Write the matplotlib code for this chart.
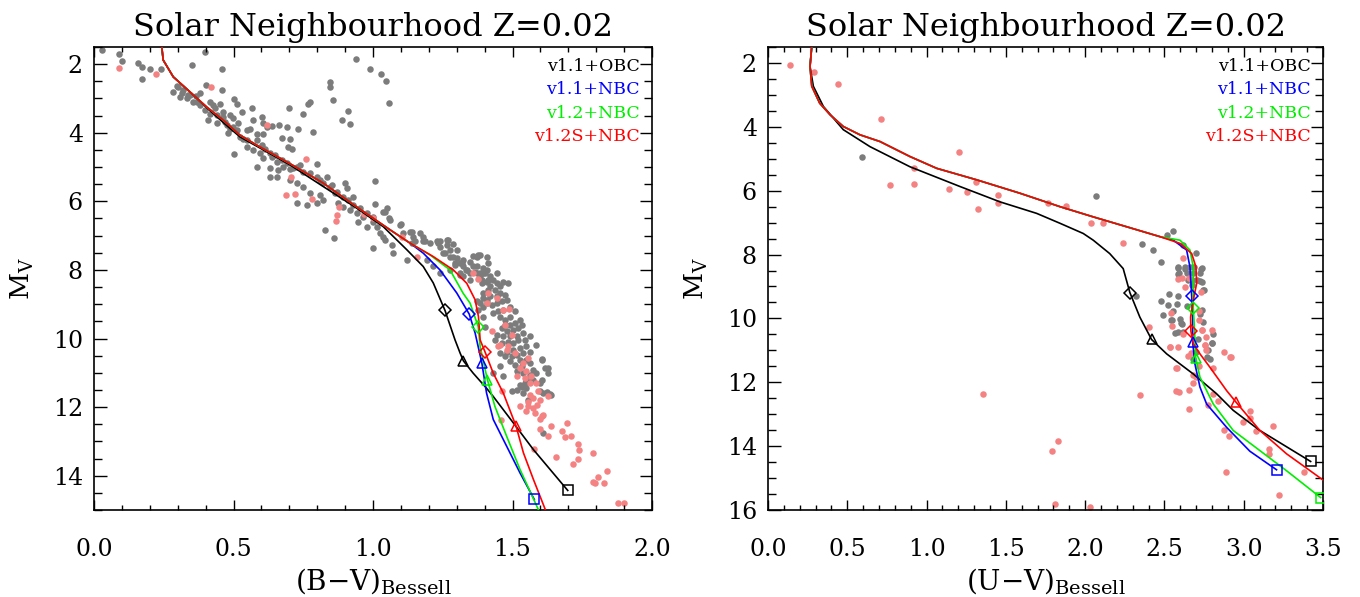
import numpy as np
import matplotlib
matplotlib.use("Agg")
import matplotlib.pyplot as plt
from matplotlib.ticker import MultipleLocator, FormatStrFormatter

plt.rcParams["font.family"] = ["DejaVu Serif"]
plt.rcParams["mathtext.fontset"] = "dejavuserif"

# ---- observed stars, (B-V) vs Mv
bv_grey = [
    (0.091, 1.71), (0.099, 1.90), (0.159, 1.96), (0.171, 2.08), (0.201, 2.13), (0.239, 2.13), (0.171, 2.44),
    (0.398, 1.64), (0.46, 2.15), (0.35, 2.03), (0.939, 1.86), (0.989, 2.15), (1.029, 2.29), (1.045, 2.49),
    (1.059, 3.13), (0.846, 2.51), (0.846, 2.66), (0.858, 3.05), (0.774, 3.10), (0.768, 3.17), (0.699, 3.29),
    (0.748, 3.44), (0.909, 3.37), (0.89, 3.63), (0.918, 3.75), (0.664, 3.78), (0.637, 3.81), (0.691, 3.84),
    (0.732, 3.90), (0.786, 3.99), (0.565, 3.29), (0.529, 3.39), (0.502, 3.03), (0.511, 3.17), (0.458, 2.76),
    (0.401, 2.61), (0.38, 2.85), (0.366, 2.93), (0.296, 2.64), (0.284, 2.81), (0.314, 2.83), (0.332, 3.00),
    (0.344, 2.90), (0.356, 3.10), (0.416, 3.10), (0.428, 3.19), (0.452, 3.15), (0.464, 3.39), (0.487, 3.49),
    (0.499, 3.58), (0.41, 3.63), (0.44, 3.73), (0.476, 3.78), (0.487, 3.90), (0.511, 3.93), (0.481, 4.02),
    (0.523, 4.12), (0.547, 4.21), (0.559, 3.90), (0.571, 3.63), (0.601, 3.53), (0.607, 3.73), (0.619, 3.84),
    (0.583, 4.04), (0.607, 4.04), (0.673, 4.14), (0.703, 4.18), (0.697, 4.41), (0.708, 4.46), (0.547, 4.41),
    (0.571, 4.50), (0.502, 4.62), (0.595, 4.60), (0.607, 4.75), (0.637, 4.70), (0.655, 4.84), (0.583, 4.99),
    (0.631, 5.04), (0.661, 5.09), (0.679, 4.99), (0.703, 5.07), (0.726, 4.99), (0.738, 4.94), (0.798, 4.91),
    (0.631, 5.28), (0.655, 5.28), (0.703, 5.38), (0.726, 5.48), (0.75, 5.57), (0.798, 5.28), (0.834, 5.30),
    (0.774, 5.77), (0.81, 5.82), (0.822, 5.96), (0.726, 6.06), (0.762, 6.11), (0.798, 6.06), (0.852, 5.52),
    (0.90, 5.48), (0.906, 5.62), (0.93, 5.88), (0.864, 5.77), (0.876, 6.06), (0.894, 6.16), (0.918, 6.25),
    (0.941, 6.35), (0.965, 6.45), (0.947, 6.59), (0.977, 6.74), (1.001, 6.59), (1.013, 6.74), (1.007, 5.40),
    (1.007, 6.08), (1.037, 6.30), (1.061, 6.54), (1.025, 6.93), (1.037, 7.03), (1.043, 7.13), (1.001, 7.37),
    (1.067, 7.27), (1.07, 7.51), (1.097, 6.69), (1.109, 6.93), (1.133, 6.88), (1.145, 7.03), (1.151, 7.17),
    (1.168, 6.93), (1.18, 7.03), (1.186, 7.17), (1.204, 7.22), (1.228, 7.17), (1.24, 7.32), (1.264, 7.13),
    (1.252, 7.51), (1.276, 7.42), (1.288, 7.61), (1.294, 7.81), (1.312, 7.81), (1.324, 7.71), (1.348, 7.76),
    (1.336, 8.00), (1.36, 7.90), (1.372, 7.61), (1.384, 8.10), (1.395, 8.10), (1.407, 7.61), (1.407, 8.00),
    (1.413, 8.29), (0.829, 6.85), (0.86, 7.06), (1.192, 7.71), (1.216, 7.90), (1.24, 8.10), (1.121, 7.71),
    (1.139, 7.22), (1.276, 8.00), (1.312, 8.10), (1.324, 8.19), (1.348, 8.29), (1.372, 8.10), (1.389, 8.29),
    (1.395, 8.68), (1.407, 8.97), (1.395, 9.36), (1.401, 9.65), (1.043, 6.30), (1.049, 6.20), (1.058, 6.48),
    (1.099, 6.67), (1.139, 6.88), (1.18, 7.17), (1.234, 7.22), (1.27, 7.12), (1.30, 7.41), (1.377, 7.56),
    (1.240, 7.17), (1.264, 7.27), (1.288, 7.24), (1.258, 7.51), (1.276, 7.61), (1.30, 7.66), (1.318, 7.80),
    (1.294, 7.85), (1.323, 7.90), (1.335, 8.00), (1.347, 8.09), (1.312, 8.14), (1.359, 7.59), (1.383, 7.56),
    (1.413, 7.80), (1.395, 7.95), (1.371, 7.90), (1.365, 8.05), (1.383, 8.19), (1.401, 8.09), (1.419, 8.19),
    (1.443, 8.09), (1.431, 8.29), (1.407, 8.34), (1.389, 8.39), (1.443, 8.39), (1.455, 8.48), (1.467, 8.34),
    (1.485, 8.39), (1.419, 8.48), (1.437, 8.58), (1.455, 8.68), (1.473, 8.73), (1.443, 8.77), (1.419, 8.77),
    (1.407, 8.87), (1.383, 8.97), (1.395, 9.07), (1.425, 9.02), (1.443, 8.97), (1.461, 8.92), (1.479, 8.87),
    (1.491, 9.07), (1.467, 9.16), (1.449, 9.21), (1.431, 9.26), (1.455, 9.36), (1.473, 9.45), (1.491, 9.36),
    (1.509, 9.21), (1.527, 9.45), (1.509, 9.55), (1.491, 9.60), (1.473, 9.60), (1.461, 9.70), (1.479, 9.79),
    (1.503, 9.75), (1.521, 9.70), (1.533, 9.60), (1.539, 9.84), (1.515, 9.94), (1.491, 9.94), (1.467, 9.94),
    (1.443, 9.89), (1.437, 10.04), (1.461, 10.13), (1.485, 10.09), (1.503, 10.13), (1.521, 10.04), (1.544, 10.04),
    (1.562, 9.94), (1.586, 10.18), (1.55, 10.23), (1.527, 10.28), (1.503, 10.33), (1.479, 10.38), (1.455, 10.43),
    (1.473, 10.52), (1.497, 10.52), (1.515, 10.47), (1.539, 10.43), (1.562, 10.38), (1.527, 10.62), (1.55, 10.62),
    (1.491, 10.67), (1.509, 10.77), (1.533, 10.81), (1.562, 10.72), (1.574, 10.91), (1.515, 10.96), (1.539, 11.01),
    (1.562, 11.06), (1.586, 11.01), (1.604, 10.62), (1.628, 10.86), (1.604, 11.20), (1.574, 11.20), (1.55, 11.20),
    (1.533, 11.40), (1.515, 11.49), (1.497, 11.54), (1.55, 11.44), (1.467, 11.10), (1.455, 10.81), (1.431, 11.01),
    (1.371, 8.92), (1.377, 9.16), (1.395, 8.82), (1.413, 8.58), (1.539, 11.39), (1.527, 11.35), (1.545, 11.30),
    (1.563, 11.28), (1.597, 11.30), (1.599, 11.54), (1.623, 11.57), (1.637, 11.64), (1.611, 11.59), (1.539, 11.59),
    (1.557, 11.78), (1.609, 12.75), (1.628, 11.00), (1.634, 11.63), (1.604, 10.60), (1.616, 10.85), (0.03, 1.58),
    (0.302, 2.66), (0.320, 2.76), (0.338, 2.90), (0.308, 2.95), (0.368, 3.10), (0.38, 3.19), (0.398, 3.34),
    (0.416, 3.44), (0.44, 3.49), (0.464, 3.55), (0.434, 3.29), (0.47, 3.68), (0.499, 3.83), (0.517, 3.73),
    (0.547, 3.92), (0.535, 4.17), (0.583, 4.21), (0.601, 4.36), (0.613, 4.46), (0.631, 4.60), (0.649, 4.65),
    (0.673, 4.80), (0.691, 4.89), (0.714, 5.04), (0.75, 5.14), (0.774, 5.18), (0.81, 5.38), (0.822, 5.48),
    (0.846, 5.57), (0.87, 5.72), (0.894, 5.86), (0.912, 5.96), (0.93, 6.11), (0.953, 6.20), (0.977, 6.35),
    (1.001, 6.45),
]
bv_pink = [
    (0.091, 2.10), (0.221, 2.30), (0.419, 2.66), (0.619, 3.78), (0.76, 4.78), (0.707, 5.28), (0.688, 5.82),
    (0.719, 5.79), (0.78, 5.94), (0.879, 6.16), (0.87, 6.40), (0.868, 6.57), (0.968, 6.37), (0.999, 6.50),
    (1.103, 7.03), (1.159, 7.63), (1.357, 8.09), (1.377, 8.26), (1.413, 8.68), (1.407, 8.97), (1.467, 9.16),
    (1.488, 9.14), (1.425, 9.79), (1.449, 10.23), (1.455, 10.18), (1.479, 10.33), (1.497, 9.89), (1.473, 9.60),
    (1.509, 10.43), (1.539, 10.72), (1.556, 10.57), (1.527, 10.86), (1.515, 11.10), (1.544, 11.15), (1.55, 10.96),
    (1.568, 11.10), (1.562, 11.30), (1.586, 11.30), (1.592, 11.54), (1.562, 11.64), (1.628, 11.67), (1.598, 11.78),
    (1.556, 11.85), (1.556, 11.98), (1.58, 12.17), (1.604, 12.27), (1.55, 12.12), (1.443, 8.82), (1.485, 10.23),
    (1.462, 11.54), (1.575, 11.73), (1.587, 11.93), (1.575, 12.03), (1.609, 12.22), (1.599, 12.35), (1.459, 12.37),
    (1.637, 12.56), (1.599, 12.64), (1.629, 12.83), (1.677, 12.69), (1.697, 12.46), (1.689, 12.88), (1.709, 12.83),
    (1.736, 13.07), (1.738, 13.24), (1.578, 13.22), (1.656, 13.45), (1.736, 13.50), (1.718, 13.66), (1.788, 13.34),
    (1.837, 13.85), (1.807, 14.04), (1.788, 14.17), (1.797, 14.22), (1.827, 14.21), (1.877, 14.79), (1.898, 14.79),
    (1.527, 11.98),
]

# ---- observed stars, (U-V) vs Mv
uv_grey = [
    (0.591, 4.94), (2.068, 6.18), (2.356, 7.68), (2.43, 7.86), (2.478, 8.23), (2.514, 7.39), (2.556, 7.27),
    (2.618, 7.70), (2.696, 7.95), (2.587, 8.39), (2.629, 8.44), (2.688, 8.39), (2.73, 8.44), (2.593, 8.59),
    (2.644, 8.59), (2.724, 8.57), (2.671, 8.80), (2.734, 8.86), (2.751, 9.10), (2.318, 9.31), (2.478, 9.45),
    (2.526, 9.25), (2.583, 9.31), (2.581, 9.56), (2.492, 9.90), (2.541, 10.04), (2.597, 10.01), (2.604, 10.14),
    (2.583, 10.43), (2.618, 10.43), (2.724, 9.85), (2.741, 10.11), (2.803, 10.76), (2.77, 11.21), (2.787, 11.26),
    (2.702, 11.05), (2.681, 11.26), (2.808, 10.50), (2.525, 9.59), (2.556, 9.77), (2.64, 9.62), (2.609, 10.16),
    (2.546, 10.06), (2.567, 10.46), (2.714, 10.64), (2.735, 9.73), (2.745, 9.12), (2.724, 8.83), (2.735, 8.42),
    (2.703, 8.80), (2.682, 8.59), (2.661, 8.39), (2.63, 8.39), (2.583, 8.41), (2.588, 8.62), (2.651, 8.80),
    (2.672, 8.96), (2.798, 10.77), (2.777, 11.00),
]
uv_pink = [
    (0.139, 2.07), (0.29, 2.28), (0.439, 2.65), (0.712, 3.76), (1.202, 4.78), (0.771, 5.82), (0.921, 5.78),
    (0.921, 5.30), (1.143, 5.95), (1.253, 6.03), (1.311, 5.74), (1.322, 6.57), (1.452, 6.15), (1.452, 6.40),
    (1.763, 6.37), (1.877, 6.48), (2.034, 7.00), (2.114, 7.02), (2.236, 7.63), (2.404, 10.27), (2.345, 12.39),
    (2.534, 10.90), (2.587, 10.90), (2.576, 11.55), (2.576, 12.28), (2.591, 12.31), (2.656, 12.24), (2.656, 12.85),
    (2.646, 11.19), (2.667, 11.09), (2.681, 11.77), (2.681, 12.02), (2.702, 11.84), (2.717, 11.50), (2.717, 9.77),
    (2.717, 10.04), (2.728, 9.17), (2.738, 10.37), (2.755, 10.84), (2.765, 10.58), (2.765, 11.00), (2.776, 12.70),
    (2.797, 10.37), (2.808, 11.55), (2.808, 12.38), (2.835, 12.59), (2.877, 11.05), (2.919, 11.21), (2.877, 13.48),
    (2.906, 13.69), (2.997, 13.25), (3.039, 12.91), (3.039, 13.12), (3.077, 13.53), (3.159, 14.09), (3.159, 14.25),
    (3.186, 13.38), (2.887, 14.82), (3.22, 15.52), (3.379, 14.82), (2.656, 8.72), (2.618, 8.11), (2.608, 8.73),
    (2.539, 9.83), (2.547, 10.24), (2.588, 8.75), (2.63, 9.01), (2.619, 10.48), (2.735, 10.37), (2.756, 10.84),
    (2.535, 10.90), (2.913, 11.21), (2.577, 11.55), (1.356, 12.36), (1.79, 14.14), (1.83, 13.85), (1.81, 15.8),
    (2.03, 15.9),
]

# ---- isochrones (B-V)
bv_upper = [(0.243, 1.50), (0.248, 1.88), (0.284, 2.37), (0.344, 2.81), (0.404, 3.25), (0.463, 3.63),
            (0.523, 4.07), (0.583, 4.36), (0.702, 4.90), (0.822, 5.47), (0.941, 6.16), (1.061, 6.83), (1.133, 7.22)]
bv_v11_obc = [(0.243, 1.50), (0.248, 1.88), (0.284, 2.37), (0.344, 2.81), (0.404, 3.27), (0.463, 3.70),
              (0.523, 4.12), (0.607, 4.50), (0.703, 4.94), (0.822, 5.57), (0.942, 6.20), (1.037, 6.74),
              (1.121, 7.41), (1.18, 7.90), (1.216, 8.38), (1.258, 9.18), (1.294, 10.04), (1.312, 10.42),
              (1.324, 10.65), (1.359, 11.01), (1.407, 11.45), (1.431, 11.69), (1.503, 12.46), (1.575, 13.24),
              (1.698, 14.43)]
bv_v11_nbc = bv_upper + [(1.18, 7.51), (1.24, 8.0), (1.30, 8.67), (1.345, 9.29), (1.366, 9.84), (1.39, 10.71),
                         (1.407, 11.59), (1.431, 12.36), (1.479, 13.14), (1.527, 13.92), (1.578, 14.69)]
bv_v12_nbc = bv_upper + [(1.204, 7.56), (1.276, 8.0), (1.323, 8.68), (1.348, 8.97), (1.377, 9.65), (1.384, 10.23),
                         (1.41, 11.20), (1.437, 11.98), (1.479, 12.85), (1.527, 13.82), (1.599, 15.1)]
bv_v12s_nbc = bv_upper + [(1.216, 7.61), (1.288, 8.00), (1.336, 8.39), (1.366, 8.87), (1.378, 9.36),
                          (1.384, 10.04), (1.401, 10.38), (1.431, 11.01), (1.467, 11.59), (1.513, 12.56),
                          (1.539, 13.33), (1.575, 14.11), (1.623, 15.1)]
# mass points: diamond, triangle, square (None = off the plot)
bv_marks = {
    "v1.1+OBC": [(1.258, 9.18), (1.324, 10.65), (1.698, 14.43)],
    "v1.1+NBC": [(1.345, 9.28), (1.39, 10.71), (1.578, 14.69)],
    "v1.2+NBC": [(1.375, 9.65), (1.41, 11.2), None],
    "v1.2S+NBC": [(1.401, 10.38), (1.513, 12.56), None],
}

# ---- isochrones (U-V)
uv_upper = [(0.276, 1.48), (0.265, 2.11), (0.276, 2.73), (0.326, 3.26), (0.391, 3.62), (0.475, 3.99),
            (0.58, 4.25), (0.706, 4.46), (0.895, 4.93), (1.064, 5.30), (1.316, 5.66), (1.589, 6.08),
            (1.841, 6.50), (2.051, 6.82), (2.262, 7.13), (2.472, 7.44)]
uv_v11_obc = [(0.276, 1.48), (0.265, 2.11), (0.286, 2.73), (0.349, 3.36), (0.475, 4.09), (0.643, 4.62),
              (0.895, 5.25), (1.211, 5.87), (1.463, 6.35), (1.694, 6.71), (1.841, 7.02), (1.988, 7.34),
              (2.051, 7.55), (2.155, 7.97), (2.24, 8.44), (2.282, 9.19), (2.345, 9.96), (2.419, 10.66),
              (2.514, 11.11), (2.682, 11.74), (2.829, 12.36), (2.934, 12.88), (3.102, 13.51), (3.422, 14.48)]
uv_v11_nbc = uv_upper + [(2.556, 7.55), (2.64, 7.86), (2.661, 8.39), (2.672, 9.31), (2.678, 10.0),
                         (2.678, 10.74), (2.692, 11.42), (2.724, 12.15), (2.766, 12.68), (2.892, 13.41),
                         (3.039, 14.16), (3.207, 14.74)]
uv_v12_nbc = uv_upper + [(2.598, 7.55), (2.661, 7.86), (2.682, 8.39), (2.682, 9.0), (2.682, 9.66), (2.69, 10.4),
                         (2.697, 11.23), (2.724, 11.84), (2.808, 12.68), (2.934, 13.51), (3.102, 14.14),
                         (3.27, 14.77), (3.485, 15.61)]
uv_v12s_nbc = uv_upper + [(2.598, 7.65), (2.672, 7.97), (2.699, 8.39), (2.703, 8.91), (2.682, 9.43),
                          (2.665, 9.96), (2.667, 10.40), (2.682, 10.79), (2.724, 11.11), (2.787, 11.53),
                          (2.892, 12.26), (2.951, 12.62), (3.102, 13.51), (3.27, 14.24), (3.50, 15.06)]
uv_marks = {
    "v1.1+OBC": [(2.282, 9.19), (2.419, 10.66), (3.422, 14.48)],
    "v1.1+NBC": [(2.672, 9.31), (2.678, 10.74), (3.207, 14.74)],
    "v1.2+NBC": [(2.682, 9.66), (2.697, 11.23), (3.485, 15.61)],
    "v1.2S+NBC": [(2.667, 10.40), (2.951, 12.62), None],
}

models = ["v1.1+OBC", "v1.1+NBC", "v1.2+NBC", "v1.2S+NBC"]
colors = {"v1.1+OBC": "black", "v1.1+NBC": "#0000ff", "v1.2+NBC": "#00ee00", "v1.2S+NBC": "#ff0000"}
shapes = ["D", "^", "s"]


def panel(ax, grey, pink, tracks, marks, xlim, ylim, xlabel, yticks):
    g = np.array(grey)
    p = np.array(pink)
    ax.scatter(g[:, 0], g[:, 1], s=22, c="#7c7c7c", linewidths=0, zorder=1)
    ax.scatter(p[:, 0], p[:, 1], s=22, c="#f48282", linewidths=0, zorder=1)
    for m in models:
        t = np.array(tracks[m])
        ax.plot(t[:, 0], t[:, 1], color=colors[m], lw=1.2, zorder=3)
        for pt, mk in zip(marks[m], shapes):
            if pt is None:
                continue
            ax.plot(pt[0], pt[1], marker=mk, ms=7 if mk != "D" else 6, mfc="none",
                    mec=colors[m], mew=1.1, zorder=4)
    for i, m in enumerate(models):
        ax.text(0.978, 0.958 - i * 0.0505, m, color=colors[m], fontsize=12.5,
                ha="right", va="center", transform=ax.transAxes)
    ax.set_xlim(*xlim)
    ax.set_ylim(*ylim)
    ax.xaxis.set_major_locator(MultipleLocator(0.5))
    ax.xaxis.set_minor_locator(MultipleLocator(0.1))
    ax.xaxis.set_major_formatter(FormatStrFormatter("%.1f"))
    ax.set_yticks(yticks)
    ax.yaxis.set_minor_locator(MultipleLocator(0.5))
    ax.tick_params(which="both", direction="in", top=True, right=True, width=1.0)
    ax.tick_params(axis="x", which="major", length=7, pad=20, labelsize=17)
    ax.tick_params(axis="x", which="minor", length=3.8)
    ax.tick_params(axis="y", which="major", length=9, pad=8, labelsize=17)
    ax.tick_params(axis="y", which="minor", length=5.5)
    for s in ax.spines.values():
        s.set_linewidth(1.2)
    ax.set_xlabel(xlabel, fontsize=20, labelpad=4)
    ax.set_ylabel(r"$\mathrm{M_V}$", fontsize=19, labelpad=12)
    ax.set_title("Solar Neighbourhood Z=0.02", fontsize=23, pad=8)


fig = plt.figure(figsize=(13.6, 5.97), dpi=100)
ax1 = fig.add_axes([94 / 1360, 1 - 510 / 597, 558 / 1360, 463 / 597])
ax2 = fig.add_axes([768 / 1360, 1 - 510 / 597, 555 / 1360, 463 / 597])

bv_tracks = {"v1.1+OBC": bv_v11_obc, "v1.1+NBC": bv_v11_nbc, "v1.2+NBC": bv_v12_nbc, "v1.2S+NBC": bv_v12s_nbc}
uv_tracks = {"v1.1+OBC": uv_v11_obc, "v1.1+NBC": uv_v11_nbc, "v1.2+NBC": uv_v12_nbc, "v1.2S+NBC": uv_v12s_nbc}

panel(ax1, bv_grey, bv_pink, bv_tracks, bv_marks, (0.0, 2.0), (15, 1.5),
      r"$\mathrm{(B{-}V)}_{\mathrm{Bessell}}$", [2, 4, 6, 8, 10, 12, 14])
panel(ax2, uv_grey, uv_pink, uv_tracks, uv_marks, (0.0, 3.5), (16, 1.5),
      r"$\mathrm{(U{-}V)}_{\mathrm{Bessell}}$", [2, 4, 6, 8, 10, 12, 14, 16])

fig.savefig("out.png", dpi=100)
